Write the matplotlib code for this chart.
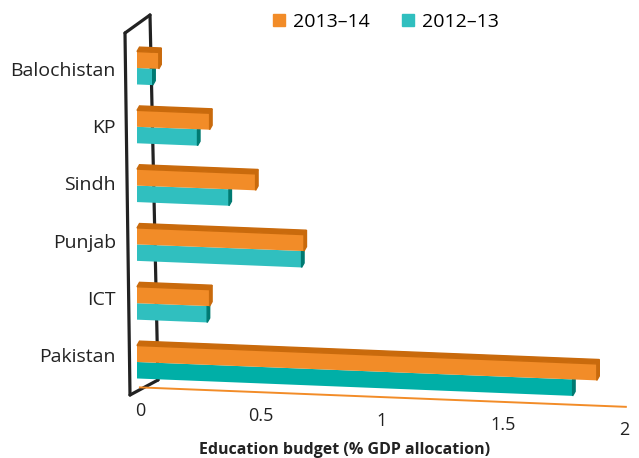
import numpy as np
import matplotlib
matplotlib.use("Agg")
from matplotlib import pyplot as plt
from matplotlib.patches import Polygon
from matplotlib.lines import Line2D
from matplotlib.transforms import Affine2D

# Education budget as % of GDP, bottom row first
regions = ["Pakistan", "ICT", "Punjab", "Sindh", "KP", "Balochistan"]
budget_1314 = [1.90, 0.30, 0.69, 0.49, 0.30, 0.09]
budget_1213 = [1.80, 0.29, 0.68, 0.38, 0.25, 0.065]
xticks = [0, 0.5, 1, 1.5, 2]

plt.rcParams["font.family"] = ["Open Sans", "DejaVu Sans"]
plt.rcParams["font.size"] = 13

W, H, DPI = 639, 458, 100
PX_UNIT, X0 = 242, 137      # pixels per % point, pixel column of zero
ROW, Y0 = 58.8, 362         # pixels per category, pixel row of the first category
SLANT = -0.04               # bars drop slightly towards the right

ORANGE, ORANGE_DARK = "#F28C28", "#C96A0C"
TEAL, TEAL_DEEP, TEAL_DARK = "#30BFBF", "#00AFA7", "#007A72"

fig = plt.figure(figsize=(W / DPI, H / DPI), dpi=DPI)
ax = fig.add_axes([0, 0, 1, 1])
ax.axis("off")
ax.set_xlim(-X0 / PX_UNIT, (W - X0) / PX_UNIT)
ax.set_ylim((Y0 - H) / ROW, Y0 / ROW)

# fake perspective: shear the data space around the zero column
skew = ax.transData + Affine2D().translate(-X0, 0).skew(0, np.arctan(SLANT)).translate(X0, 0)


def px(x, y):
    return x / W, 1 - y / H


# wall panel behind the categories
wall = [((125, 33), (130, 395)), ((125, 33), (150, 15)),
        ((150, 15), (158, 380)), ((130, 395), (158, 380))]
for a, b in wall:
    (x1, y1), (x2, y2) = px(*a), px(*b)
    ax.add_line(Line2D([x1, x2], [y1, y2], transform=fig.transFigure,
                       color="#222222", lw=2.3, zorder=1, solid_capstyle="round"))

h = 0.28
dx, dy = 2.5 / PX_UNIT, 4.5 / ROW
rows = np.arange(len(regions))
teal_faces = [TEAL_DEEP if r == "Pakistan" else TEAL for r in regions]

ax.barh(rows - h, budget_1213, height=h, align="edge", color=teal_faces,
        transform=skew, zorder=3)
ax.barh(rows, budget_1314, height=h, align="edge", color=ORANGE,
        transform=skew, zorder=5)

for i, (a, b) in enumerate(zip(budget_1314, budget_1213)):
    # end face of the lower bar
    ax.add_patch(Polygon([(b, i - h), (b + dx, i - h + dy), (b + dx, i + dy), (b, i)],
                         closed=True, color=TEAL_DARK, transform=skew, zorder=4))
    # top and end faces of the upper bar
    ax.add_patch(Polygon([(0, i + h), (a, i + h), (a + dx, i + h + dy), (dx, i + h + dy)],
                         closed=True, color=ORANGE_DARK, transform=skew, zorder=6))
    ax.add_patch(Polygon([(a, i), (a + dx, i + dy), (a + dx, i + h + dy), (a, i + h)],
                         closed=True, color=ORANGE_DARK, transform=skew, zorder=6))
    ax.text(-21 / PX_UNIT, i + 0.08 - 0.025 * i, regions[i], ha="right", va="center",
            fontsize=14, color="#222222")

# floor line and value axis labels
floor = -0.43
ax.plot([0.012, 2.02], [floor, floor], color=ORANGE, lw=1.4, transform=skew, zorder=2)
for t in xticks:
    ax.annotate(f"{t:g}", xy=(t, floor), xycoords=skew, xytext=(2, -17),
                textcoords="offset points", ha="center", va="center", color="#222222")

fig.text(345 / W, 1 - 450 / H, "Education budget (% GDP allocation)",
         ha="center", va="center", fontweight="bold", fontsize=11.5, color="#222222")

handles = [Line2D([], [], ls="none", marker="s", ms=8, color=ORANGE),
           Line2D([], [], ls="none", marker="s", ms=8, color=TEAL)]
fig.legend(handles, ["2013–14", "2012–13"], loc="center", bbox_to_anchor=(385 / W, 1 - 22 / H),
           ncol=2, frameon=False, handlelength=0.8, handletextpad=0.3, columnspacing=1.6,
           fontsize=14)

fig.savefig("out.png", dpi=DPI)
